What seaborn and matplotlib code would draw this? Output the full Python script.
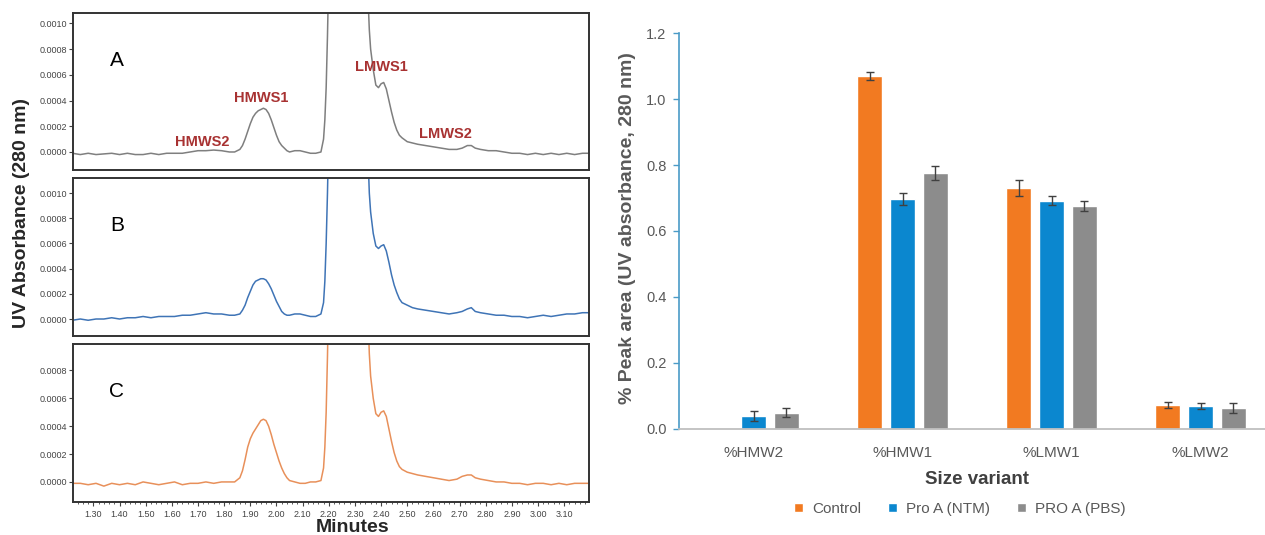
import numpy as np
import pandas as pd
import seaborn as sns
import matplotlib.pyplot as plt
from matplotlib.ticker import MultipleLocator, FormatStrFormatter

# -----------------------------
# Chromatogram traces
# -----------------------------
minutes = [1.22, 1.25, 1.28, 1.31, 1.34, 1.37, 1.40, 1.43, 1.46, 1.49,
           1.52, 1.55, 1.58, 1.61, 1.64, 1.67, 1.70, 1.73, 1.76, 1.79,
           1.82, 1.84, 1.86, 1.87, 1.88, 1.89, 1.90, 1.91, 1.92, 1.93,
           1.94, 1.95, 1.96, 1.97, 1.98, 1.99, 2.00, 2.01, 2.02, 2.03,
           2.04, 2.05, 2.07, 2.09, 2.11, 2.13, 2.15, 2.17, 2.18, 2.185,
           2.19, 2.195, 2.20, 2.24, 2.30, 2.34, 2.35, 2.355, 2.36, 2.37,
           2.38, 2.39, 2.40, 2.41, 2.42, 2.43, 2.44, 2.45, 2.46, 2.47,
           2.48, 2.50, 2.52, 2.54, 2.57, 2.60, 2.63, 2.66, 2.69, 2.71,
           2.73, 2.745, 2.76, 2.78, 2.81, 2.84, 2.87, 2.90, 2.93, 2.96,
           2.99, 3.02, 3.05, 3.08, 3.11, 3.14, 3.17, 3.20]

trace_a = [-0.00001, -0.00002, -0.00001, -0.00002, -0.000015, -0.00001, -0.00002, -0.00001, -0.00002, -0.00002,
           -0.00001, -0.00002, -0.00001, -0.00001, -0.00001, 0.0, 0.00001, 0.00001, 0.000015, 0.00001,
           0.0, 0.0, 0.00002, 0.00005, 0.00010, 0.00016, 0.00022, 0.00027, 0.00030, 0.00032,
           0.00033, 0.00034, 0.00033, 0.00030, 0.00025, 0.00019, 0.00013, 0.00008, 0.00005, 0.00003,
           0.00001, 0.0, 0.00001, 0.00001, 0.0, -0.00001, -0.00001, 0.0, 0.00010, 0.00025,
           0.0005, 0.0009, 0.0014, 0.005, 0.005, 0.002, 0.0012, 0.00095, 0.00080, 0.00064,
           0.00052, 0.00050, 0.00053, 0.00054, 0.00049, 0.00040, 0.00031, 0.00023, 0.00017, 0.00013,
           0.00011, 0.00008, 0.00007, 0.00006, 0.00005, 0.00004, 0.00003, 0.00002, 0.00002, 0.00003,
           0.00005, 0.00005, 0.00003, 0.00002, 0.00001, 0.00001, 0.0, -0.00001, -0.00001, -0.00002,
           -0.00001, -0.00002, -0.00001, -0.00002, -0.00001, -0.00002, -0.00001, -0.00001]

trace_b = [-0.00001, 0.0, -0.00001, 0.0, 0.0, 0.00001, 0.0, 0.00001, 0.00001, 0.00002,
           0.00001, 0.00002, 0.00002, 0.00002, 0.00003, 0.00003, 0.00004, 0.00005, 0.00004, 0.00004,
           0.00003, 0.00003, 0.00004, 0.00007, 0.00011, 0.00017, 0.00022, 0.00027, 0.00030, 0.00031,
           0.00032, 0.00032, 0.00031, 0.00028, 0.00024, 0.00019, 0.00014, 0.00010, 0.00006, 0.00004,
           0.00003, 0.00003, 0.00004, 0.00004, 0.00003, 0.00002, 0.00002, 0.00004, 0.00013, 0.0003,
           0.0006, 0.001, 0.0015, 0.005, 0.005, 0.002, 0.0013, 0.0010, 0.00085, 0.00068,
           0.00058, 0.00056, 0.00058, 0.00059, 0.00054, 0.00045, 0.00035, 0.00027, 0.00021, 0.00016,
           0.00013, 0.00011, 0.00009, 0.00008, 0.00007, 0.00006, 0.00005, 0.00004, 0.00005, 0.00006,
           0.00008, 0.00009, 0.00006, 0.00005, 0.00004, 0.00003, 0.00003, 0.00002, 0.00002, 0.00001,
           0.00002, 0.00003, 0.00002, 0.00003, 0.00004, 0.00004, 0.00005, 0.00005]

trace_c = [-0.00001, -0.00001, -0.00002, -0.00001, -0.00003, -0.00001, -0.00002, -0.00001, -0.00002, 0.0,
           -0.00001, -0.00002, -0.00001, 0.0, -0.00002, -0.00001, -0.00001, 0.0, -0.00001, 0.0,
           0.0, 0.0, 0.00003, 0.00008, 0.00016, 0.00025, 0.00031, 0.00035, 0.00038, 0.00041,
           0.00044, 0.00045, 0.00044, 0.00040, 0.00034, 0.00027, 0.00021, 0.00015, 0.00010, 0.00006,
           0.00003, 0.00001, 0.0, -0.00001, -0.00001, 0.0, 0.0, 0.00001, 0.00010, 0.00025,
           0.0005, 0.0009, 0.0014, 0.005, 0.005, 0.002, 0.0012, 0.00092, 0.00076, 0.00060,
           0.00049, 0.00047, 0.00050, 0.00051, 0.00047, 0.00038, 0.00029, 0.00021, 0.00015, 0.00011,
           0.00009, 0.00007, 0.00006, 0.00005, 0.00004, 0.00003, 0.00002, 0.00001, 0.00002, 0.00004,
           0.00005, 0.00005, 0.00003, 0.00002, 0.00001, 0.0, 0.0, -0.00001, -0.00001, -0.00002,
           -0.00001, -0.00001, -0.00002, -0.00001, -0.00002, -0.00001, -0.00001, -0.00001]

peak_names = ["HMWS2", "HMWS1", "LMWS1", "LMWS2"]
peak_label_x = [1.717, 1.943, 2.400, 2.645]
peak_label_y = [0.00008, 0.00042, 0.00066, 0.00014]

# -----------------------------
# Bar chart data
# -----------------------------
variants = ["%HMW2", "%HMW1", "%LMW1", "%LMW2"]
groups = ["Control", "Pro A (NTM)", "PRO A (PBS)"]
control = [0.0, 1.07, 0.73, 0.073]
pro_a_ntm = [0.039, 0.697, 0.692, 0.071]
pro_a_pbs = [0.049, 0.776, 0.676, 0.064]
control_err = [0.0, 0.012, 0.025, 0.010]
pro_a_ntm_err = [0.015, 0.018, 0.014, 0.009]
pro_a_pbs_err = [0.014, 0.021, 0.016, 0.014]

sns.set_style("white")
plt.rcParams["font.family"] = ["Liberation Sans", "DejaVu Sans"]

W, H = 1265, 535
fig = plt.figure(figsize=(W / 100, H / 100), dpi=100)


def box(left, top, right, bottom):
    return [left / W, (H - bottom) / H, (right - left) / W, (bottom - top) / H]


# -----------------------------
# Left: three chromatograms
# -----------------------------
panels = [
    ("A", trace_a, "#7f7f7f", box(73, 13, 589, 170), (-0.00014, 0.00108)),
    ("B", trace_b, "#3f74b6", box(73, 178, 589, 336), (-0.000135, 0.00112)),
    ("C", trace_c, "#e8905a", box(73, 344, 589, 502), (-0.000144, 0.00099)),
]

for i, (name, trace, color, rect, ylim) in enumerate(panels):
    ax = fig.add_axes(rect)
    sns.lineplot(x=minutes, y=trace, ax=ax, color=color, lw=1.1)
    ax.set_xlim(1.222, 3.195)
    ax.set_ylim(*ylim)
    ax.yaxis.set_major_locator(MultipleLocator(0.0002))
    ax.yaxis.set_major_formatter(FormatStrFormatter("%.4f"))
    ax.tick_params(axis="y", labelsize=6.5, length=3, width=0.8,
                   colors="#444444", left=True, pad=1)
    for s in ax.spines.values():
        s.set_color("#333333")
        s.set_linewidth(1.4)
    ax.text(0.085, 0.7, name, transform=ax.transAxes, fontsize=15,
            ha="center", va="center", color="black")
    if i < 2:
        ax.set_xticks([])
    else:
        ax.xaxis.set_major_locator(MultipleLocator(0.1))
        ax.xaxis.set_minor_locator(MultipleLocator(0.02))
        ax.xaxis.set_major_formatter(FormatStrFormatter("%.2f"))
        ax.tick_params(axis="x", which="major", labelsize=6.5, length=3,
                       width=0.8, colors="#444444", bottom=True, pad=3)
        ax.tick_params(axis="x", which="minor", length=1.5, width=0.6,
                       colors="#444444", bottom=True)
    if i == 0:
        for lbl, lx, ly in zip(peak_names, peak_label_x, peak_label_y):
            ax.text(lx, ly, lbl, fontsize=10.5, fontweight="bold",
                    color="#a83232", ha="center", va="center")

fig.text(22 / W, 1 - 213 / H, "UV Absorbance (280 nm)", rotation=90,
         fontsize=14, fontweight="bold", ha="center", va="center")
fig.text(353 / W, 1 - 527 / H, "Minutes", fontsize=14, fontweight="bold",
         ha="center", va="center")

# -----------------------------
# Right: bar chart
# -----------------------------
df = pd.DataFrame({
    "variant": variants * 3,
    "group": [g for g in groups for _ in variants],
    "value": control + pro_a_ntm + pro_a_pbs,
    "err": control_err + pro_a_ntm_err + pro_a_pbs_err,
})

palette = {"Control": "#f27a21", "Pro A (NTM)": "#0b87cf", "PRO A (PBS)": "#8c8c8c"}

bx = fig.add_axes(box(679, 33, 1275, 429))
sns.barplot(data=df, x="variant", y="value", hue="group", order=variants,
            hue_order=groups, palette=palette, width=0.66, gap=0.24,
            errorbar=None, saturation=1, ax=bx)

# error bars at the bar centres seaborn drew
bars = bx.patches[:12]
for p, (_, row) in zip(bars, df.iterrows()):
    if row["value"] > 0:
        bx.errorbar(p.get_x() + p.get_width() / 2, row["value"], yerr=row["err"],
                    fmt="none", ecolor="#404040", elinewidth=1, capsize=3,
                    capthick=1)

bx.set_xlim(-0.5, 3.5)
bx.set_ylim(0, 1.2)
bx.set_yticks([0, 0.2, 0.4, 0.6, 0.8, 1.0, 1.2])
bx.yaxis.set_major_formatter(FormatStrFormatter("%.1f"))
bx.set_xlabel("Size variant", fontsize=13.5, fontweight="bold",
              color="#404040", labelpad=8)
bx.set_ylabel("")
fig.text(627 / W, 1 - 228 / H, "% Peak area (UV absorbance, 280 nm)",
         rotation=90, fontsize=14, fontweight="bold", color="#595959",
         ha="center", va="center")

for s in ["top", "right"]:
    bx.spines[s].set_visible(False)
bx.spines["left"].set_color("#4a9bc7")
bx.spines["left"].set_linewidth(1.2)
bx.spines["bottom"].set_color("#bfbfbf")
bx.spines["bottom"].set_linewidth(1.3)
bx.tick_params(axis="y", labelsize=10.5, labelcolor="#595959", color="#4a9bc7",
               left=True, length=4, width=1, pad=5)
bx.tick_params(axis="x", labelsize=11, labelcolor="#595959", bottom=False,
               pad=9)

handles, labels = bx.get_legend_handles_labels()
bx.legend(handles, labels, loc="center", bbox_to_anchor=(960 / W, 1 - 509 / H),
          bbox_transform=fig.transFigure, ncol=3, frameon=False, fontsize=11,
          handlelength=0.55, handleheight=0.55, handletextpad=0.6,
          columnspacing=1.8, labelcolor="#595959")

fig.savefig("out.png", dpi=100)
